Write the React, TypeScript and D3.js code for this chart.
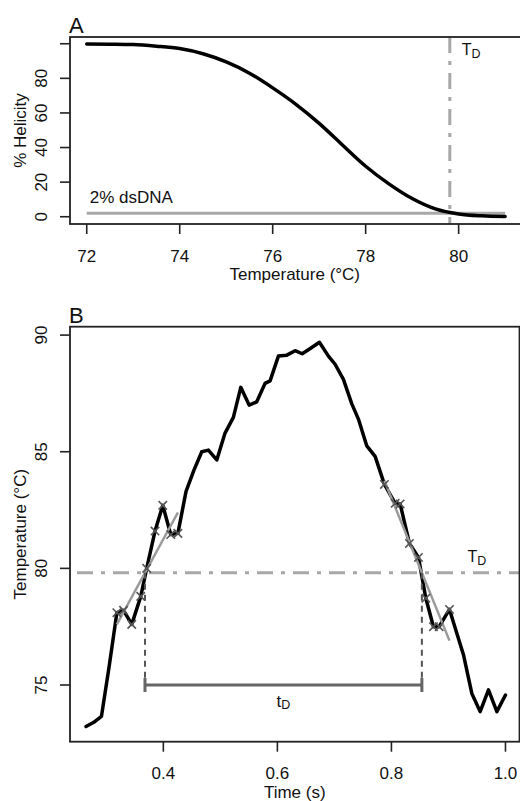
import React from "react";
import * as d3 from "d3";

// ---------- Panel A data ----------
const helixTemp = [72, 72.5, 73, 73.5, 74, 74.5, 75, 75.5, 76, 76.5, 77, 77.5, 78, 78.5, 79, 79.5, 80, 80.5, 81];
const helixPct = [99.8, 99.7, 99.5, 98.6, 97.2, 94.2, 89.5, 83, 74.5, 65, 54, 41.5, 29.2, 19, 10.5, 4.5, 1.6, 0.5, 0.1];
const dsDNALevel = 2;
const dsDNALabel = "2% dsDNA";
const meltTD = 79.81;
const aXTicks = [72, 74, 76, 78, 80];
const aYTicks = [0, 20, 40, 60, 80, 100];
const aYLabels = ["0", "20", "40", "60", "80", ""];

// ---------- Panel B data ----------
const timeS = [
  0.2645, 0.278, 0.2915, 0.305, 0.3185, 0.3302, 0.3446, 0.3604, 0.3708, 0.3854,
  0.399, 0.413, 0.4255, 0.4398, 0.4535, 0.4674, 0.479, 0.4937, 0.5082, 0.5228,
  0.5358, 0.5504, 0.5638, 0.5784, 0.5872, 0.6018, 0.6165, 0.631, 0.6435, 0.659,
  0.6737, 0.6895, 0.7012, 0.7158, 0.7305, 0.7421, 0.7568, 0.7714, 0.7877, 0.8065,
  0.8153, 0.8316, 0.8474, 0.8603, 0.8737, 0.8837, 0.9018, 0.9263, 0.941, 0.9556,
  0.9702, 0.9849, 1.0,
];
const tempC = [
  73.22, 73.4, 73.66, 75.8, 78.1, 78.2, 77.6, 78.8, 80.0, 81.6,
  82.7, 81.45, 81.5, 83.3, 84.2, 85.0, 85.07, 84.65, 85.8, 86.47,
  87.76, 87.0, 87.14, 87.93, 88.04, 89.1, 89.14, 89.33, 89.2, 89.45,
  89.69, 89.1, 88.75, 88.1, 87.05, 86.4, 85.25, 84.8, 83.6, 82.79,
  82.76, 81.07, 80.47, 78.72, 77.5, 77.5, 78.24, 76.3, 74.64, 73.86,
  74.79, 73.86, 74.57,
];
const leftFitRange = [4, 12];
const rightFitRange = [38, 46];
const barTemp = 75;
const bXTicks = [0.4, 0.6, 0.8, 1.0];
const bXLabels = ["0.4", "0.6", "0.8", "1.0"];
const bYTicks = [75, 80, 85, 90];

const FONT = "'Liberation Sans', Arial, Helvetica, sans-serif";

function linFit(idx: number[]) {
  const xs = idx.map((i) => timeS[i]);
  const ys = idx.map((i) => tempC[i]);
  const mx = d3.mean(xs)!;
  const my = d3.mean(ys)!;
  let sxy = 0, sxx = 0;
  xs.forEach((x, k) => {
    sxy += (x - mx) * (ys[k] - my);
    sxx += (x - mx) * (x - mx);
  });
  const m = sxy / sxx;
  const b = my - m * mx;
  return { m, b, x0: d3.min(xs)!, x1: d3.max(xs)! };
}

function range(r: number[]) {
  return d3.range(r[0], r[1] + 1);
}

export default function App() {
  // Panel A geometry
  const aL = 70, aR = 522, aT = 37, aB = 224;
  const xA = d3.scaleLinear().domain([71.64, 81.32]).range([70, 520]);
  const yA = d3.scaleLinear().domain([-4.2, 103.9]).range([aB, aT]);
  const lineA = d3
    .line<number>()
    .x((_, i) => xA(helixTemp[i]))
    .y((d) => yA(d))
    .curve(d3.curveMonotoneX);

  // Panel B geometry
  const bL = 70, bR = 519.5, bT = 326.7, bB = 741.7;
  const xB = d3.scaleLinear().domain([0.2363, 1.0246]).range([bL, bR]);
  const yB = d3.scaleLinear().domain([72.57, 90.36]).range([bB, bT]);
  const lineB = d3
    .line<number>()
    .x((_, i) => xB(timeS[i]))
    .y((d) => yB(d));

  const fitL = linFit(range(leftFitRange));
  const fitR = linFit(range(rightFitRange));
  const tCrossL = (meltTD - fitL.b) / fitL.m;
  const tCrossR = (meltTD - fitR.b) / fitR.m;
  const markerIdx = [...range(leftFitRange), ...range(rightFitRange)];

  const axisColor = "#222";
  const tickLen = 10;

  return (
    <div style={{ position: "absolute", left: 0, top: 0 }}>
      <svg width={520} height={801} style={{ display: "block", fontFamily: FONT }}>
        <rect x={0} y={0} width={520} height={801} fill="#fff" />

        {/* ================= Panel A ================= */}
        <text x={69} y={33} fontSize={22} fill="#111">A</text>
        {/* 2% dsDNA line */}
        <line x1={xA(72)} x2={xA(81)} y1={yA(dsDNALevel)} y2={yA(dsDNALevel)} stroke="#a8a8a8" strokeWidth={3} />
        <text x={xA(72) + 3} y={yA(dsDNALevel) - 10} fontSize={17} fill="#111">{dsDNALabel}</text>
        {/* TD vertical */}
        <line x1={xA(meltTD)} x2={xA(meltTD)} y1={aT} y2={aB} stroke="#a8a8a8" strokeWidth={3} strokeDasharray="16 8 4 8" />
        <text x={xA(meltTD) + 12} y={aT + 18} fontSize={16} fill="#111">
          <tspan>T</tspan>
          <tspan fontSize={12.5} dy={3}>D</tspan>
        </text>
        {/* helicity curve */}
        <path d={lineA(helixPct) || ""} fill="none" stroke="#000" strokeWidth={3.5} strokeLinejoin="round" strokeLinecap="round" />
        {/* box */}
        <rect x={aL} y={aT} width={aR - aL} height={aB - aT} fill="none" stroke={axisColor} strokeWidth={1.8} />
        {/* x axis */}
        {aXTicks.map((t) => (
          <g key={"ax" + t}>
            <line x1={xA(t)} x2={xA(t)} y1={aB} y2={aB + tickLen} stroke={axisColor} strokeWidth={1.6} />
            <text x={xA(t)} y={262} fontSize={17} textAnchor="middle" fill="#111">{t}</text>
          </g>
        ))}
        <text x={(aL + 519.5) / 2} y={280} fontSize={17} textAnchor="middle" fill="#111">Temperature (°C)</text>
        {/* y axis */}
        {aYTicks.map((t, i) => (
          <g key={"ay" + t}>
            <line x1={aL - tickLen} x2={aL} y1={yA(t)} y2={yA(t)} stroke={axisColor} strokeWidth={1.6} />
            <text transform={`translate(47,${yA(t)}) rotate(-90)`} fontSize={17} textAnchor="middle" fill="#111">{aYLabels[i]}</text>
          </g>
        ))}
        <text transform={`translate(26,${(aT + aB) / 2}) rotate(-90)`} fontSize={17} textAnchor="middle" fill="#111">% Helicity</text>

        {/* ================= Panel B ================= */}
        <text x={69} y={323} fontSize={22} fill="#111">B</text>
        {/* TD horizontal */}
        <line x1={bL} x2={bR} y1={yB(meltTD)} y2={yB(meltTD)} stroke="#a8a8a8" strokeWidth={3} strokeDasharray="16 8 4 8" strokeDashoffset={29} />
        <text x={xB(0.95)} y={yB(meltTD) - 11} fontSize={16} textAnchor="middle" fill="#111">
          <tspan>T</tspan>
          <tspan fontSize={12.5} dy={3}>D</tspan>
        </text>
        {/* temperature trace */}
        <path d={lineB(tempC) || ""} fill="none" stroke="#000" strokeWidth={3.5} strokeLinejoin="round" strokeLinecap="round" />
        {/* fit lines */}
        {[fitL, fitR].map((f, k) => (
          <line key={"fit" + k} x1={xB(f.x0)} x2={xB(f.x1)} y1={yB(f.m * f.x0 + f.b)} y2={yB(f.m * f.x1 + f.b)} stroke="#9a9a9a" strokeWidth={2.5} />
        ))}
        {/* markers */}
        {markerIdx.map((i) => {
          const cx = xB(timeS[i]);
          const cy = yB(tempC[i]);
          const s = 4.2;
          return (
            <path key={"m" + i} d={`M${cx - s},${cy - s}L${cx + s},${cy + s}M${cx - s},${cy + s}L${cx + s},${cy - s}`} stroke="#555" strokeWidth={1.6} fill="none" />
          );
        })}
        {/* crossing verticals */}
        {[tCrossL, tCrossR].map((t, k) => (
          <line key={"v" + k} x1={xB(t)} x2={xB(t)} y1={yB(meltTD)} y2={yB(barTemp) + 7} stroke="#555" strokeWidth={2} strokeDasharray="6 5" />
        ))}
        {/* tD bar */}
        <line x1={xB(tCrossL)} x2={xB(tCrossR)} y1={yB(barTemp)} y2={yB(barTemp)} stroke="#666" strokeWidth={3} />
        {[tCrossL, tCrossR].map((t, k) => (
          <line key={"c" + k} x1={xB(t)} x2={xB(t)} y1={yB(barTemp) - 7} y2={yB(barTemp) + 7} stroke="#666" strokeWidth={3} />
        ))}
        <text x={xB((tCrossL + tCrossR) / 2)} y={yB(barTemp) + 22} fontSize={17} textAnchor="middle" fill="#111">
          <tspan>t</tspan>
          <tspan fontSize={12.5} dy={2}>D</tspan>
        </text>
        {/* box */}
        <rect x={bL} y={bT} width={bR - bL} height={bB - bT} fill="none" stroke={axisColor} strokeWidth={1.8} />
        {/* x axis */}
        {bXTicks.map((t, i) => (
          <g key={"bx" + t}>
            <line x1={xB(t)} x2={xB(t)} y1={bB} y2={bB + tickLen} stroke={axisColor} strokeWidth={1.6} />
            <text x={xB(t)} y={779} fontSize={17} textAnchor="middle" fill="#111">{bXLabels[i]}</text>
          </g>
        ))}
        <text x={(bL + bR) / 2} y={797.5} fontSize={17} textAnchor="middle" fill="#111">Time (s)</text>
        {/* y axis */}
        {bYTicks.map((t) => (
          <g key={"by" + t}>
            <line x1={bL - tickLen} x2={bL} y1={yB(t)} y2={yB(t)} stroke={axisColor} strokeWidth={1.6} />
            <text transform={`translate(46.5,${yB(t)}) rotate(-90)`} fontSize={17} textAnchor="middle" fill="#111">{t}</text>
          </g>
        ))}
        <text transform={`translate(25.5,${(bT + bB) / 2}) rotate(-90)`} fontSize={17} textAnchor="middle" fill="#111">Temperature (°C)</text>
      </svg>
    </div>
  );
}
